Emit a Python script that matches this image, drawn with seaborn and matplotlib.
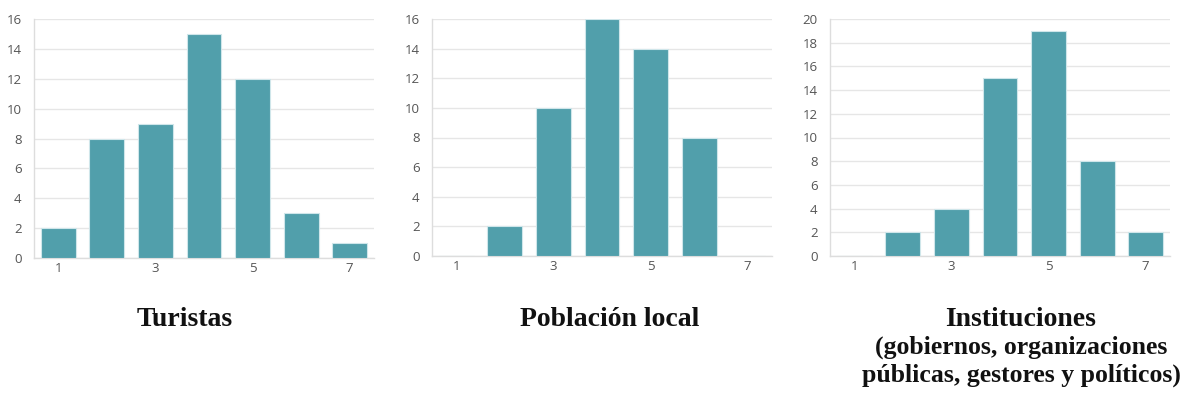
import matplotlib
matplotlib.use("Agg")
import matplotlib.pyplot as plt
import seaborn as sns
import pandas as pd

categories = [1, 2, 3, 4, 5, 6, 7]
turistas = [2, 8, 9, 15, 12, 3, 1]
poblacion = [0, 2, 10, 16, 14, 8, 0]
instituciones = [0, 2, 4, 15, 19, 8, 2]
xtick_labels = [1, 3, 5, 7]
titles = ["Turistas", "Población local", "Instituciones"]
subtitle_lines = ["(gobiernos, organizaciones", "públicas, gestores y políticos)"]

sns.set_theme(style="white")
plt.rcParams['font.family'] = ['Open Sans', 'DejaVu Sans']

fig = plt.figure(figsize=(11.81, 3.97), dpi=100)
bar_color = "#519FAB"
grid_color = "#e6e6e6"
W, H = 1181, 397

specs = [
    (turistas, [34, 19, 374, 258], 16, 185),
    (poblacion, [432, 19, 772, 256], 16, 610),
    (instituciones, [830, 19, 1170, 256], 20, 1021),
]
for i, (vals, (x0, y0, x1, y1), ymax, tcx) in enumerate(specs):
    ax = fig.add_axes([x0 / W, 1 - y1 / H, (x1 - x0) / W, (y1 - y0) / H])
    df = pd.DataFrame({"cat": categories, "val": vals})
    sns.barplot(data=df, x="cat", y="val", native_scale=True, width=0.72,
                color=bar_color, saturation=1, edgecolor="#cfe6ea",
                linewidth=0.8, ax=ax, zorder=3)
    ax.set_xlim(0.5, 7.5)
    ax.set_ylim(0, ymax)
    ax.set_yticks(range(0, ymax + 1, 2))
    ax.set_xticks(xtick_labels)
    ax.set_xticklabels([str(v) for v in xtick_labels])
    ax.set_xlabel("")
    ax.set_ylabel("")
    ax.yaxis.grid(True, color=grid_color, linewidth=1, zorder=0)
    ax.set_axisbelow(True)
    for s in ["top", "right"]:
        ax.spines[s].set_visible(False)
    for s in ["left", "bottom"]:
        ax.spines[s].set_color("#dddddd")
        ax.spines[s].set_linewidth(1)
    ax.tick_params(axis="both", labelsize=9.5, colors="#555555", length=0, pad=3)
    ax.tick_params(axis="y", pad=9)
    fig.text(tcx / W, 1 - 326 / H, titles[i], ha="center", va="baseline",
             fontsize=20, fontweight="bold", family="Liberation Serif",
             color="#111111")
    if i == 2:
        for j, line in enumerate(subtitle_lines):
            fig.text(tcx / W, 1 - (354 + 28 * j) / H, line, ha="center",
                     va="baseline", fontsize=18.5, fontweight="bold",
                     family="Liberation Serif", color="#111111")

fig.savefig("out.png", dpi=100)
